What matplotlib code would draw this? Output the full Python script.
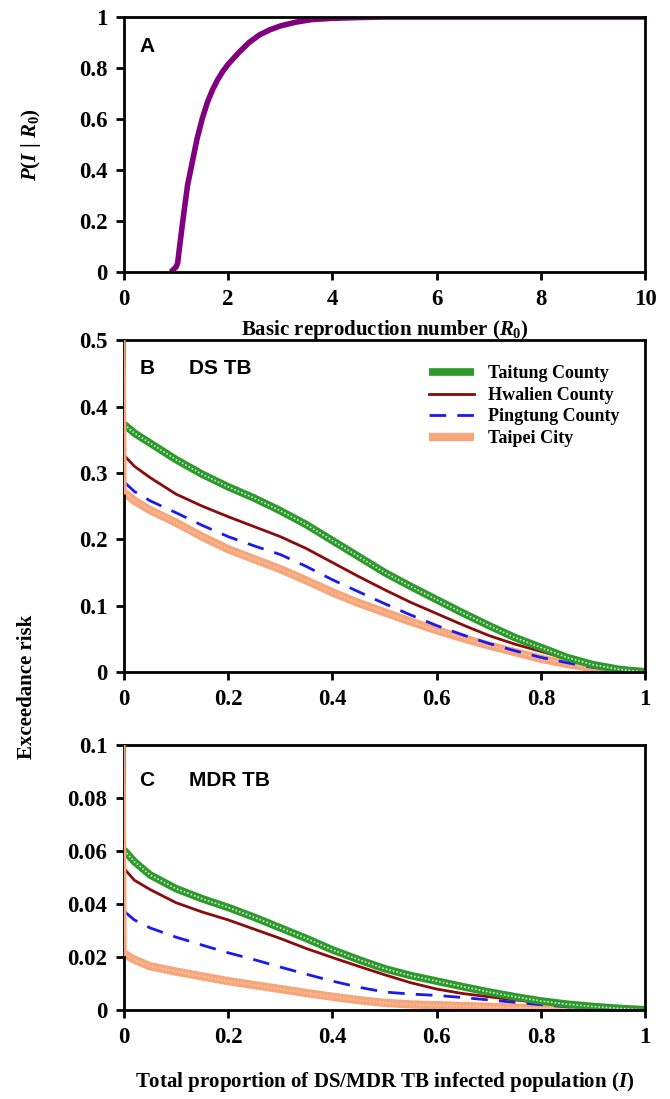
import numpy as np
import matplotlib
matplotlib.use('Agg')
import matplotlib.pyplot as plt

plt.rcParams['font.family'] = ['Liberation Serif', 'DejaVu Serif']
plt.rcParams['font.weight'] = 'bold'
plt.rcParams['mathtext.fontset'] = 'custom'
plt.rcParams['mathtext.rm'] = 'Liberation Serif:bold'
plt.rcParams['mathtext.it'] = 'Liberation Serif:bold:italic'
plt.rcParams['mathtext.bf'] = 'Liberation Serif:bold'

# panel A: P(I|R0)
r0 = [0.9, 1.0, 1.03, 1.08, 1.15, 1.22, 1.3, 1.4, 1.5, 1.6, 1.7, 1.8, 1.9, 2.0, 2.2, 2.4,
      2.6, 2.8, 3.0, 3.3, 3.6, 4.0, 4.5, 5.0, 10]
p_r0 = [0, 0.02, 0.035, 0.12, 0.233, 0.34, 0.42, 0.52, 0.60, 0.665, 0.715, 0.755, 0.788, 0.815,
        0.86, 0.9, 0.93, 0.95, 0.965, 0.98, 0.99, 0.995, 0.998, 1.0, 1.0]

# panels B/C: exceedance risk
i_grid = [0, 0.002, 0.02, 0.05, 0.1, 0.15, 0.2, 0.25, 0.3, 0.35, 0.4, 0.45, 0.5,
          0.55, 0.6, 0.65, 0.7, 0.75, 0.8, 0.85, 0.9, 0.95, 1.0]

ds_taitung = [0.372, 0.372, 0.36, 0.345, 0.32, 0.298, 0.279, 0.262, 0.243, 0.222, 0.198, 0.174,
              0.150, 0.129, 0.109, 0.089, 0.070, 0.052, 0.037, 0.022, 0.011, 0.004, 0.0]
ds_hwalien = [0.325, 0.325, 0.31, 0.293, 0.268, 0.25, 0.234, 0.219, 0.204, 0.186, 0.165, 0.144,
              0.124, 0.105, 0.088, 0.071, 0.055, 0.042, 0.031, 0.020, 0.010, 0.004, 0.0]
ds_pingtung = [0.285, 0.285, 0.272, 0.258, 0.240, 0.221, 0.204, 0.19, 0.177, 0.159, 0.139, 0.121,
               0.103, 0.086, 0.070, 0.056, 0.043, 0.032, 0.022, 0.014, 0.007, 0.003, 0.0]
ds_taipei = [0.5, 0.27, 0.258, 0.244, 0.225, 0.204, 0.185, 0.17, 0.155, 0.138, 0.12, 0.104,
             0.09, 0.076, 0.063, 0.051, 0.04, 0.03, 0.02, 0.012, 0.006, 0.002, 0.0]

mdr_taitung = [0.060, 0.060, 0.056, 0.051, 0.0458, 0.042, 0.0387, 0.035, 0.031, 0.027, 0.0227, 0.019,
               0.0156, 0.013, 0.0109, 0.0088, 0.0068, 0.005, 0.0034, 0.0022, 0.0013, 0.0006, 0.0]
mdr_hwalien = [0.053, 0.053, 0.049, 0.0455, 0.0405, 0.037, 0.034, 0.0305, 0.027, 0.0232, 0.0198, 0.0165,
               0.0133, 0.0103, 0.0079, 0.0062, 0.005, 0.0038, 0.0027, 0.0015, 0.0008, 0.0003, 0.0]
mdr_pingtung = [0.037, 0.037, 0.034, 0.031, 0.0275, 0.0245, 0.0216, 0.019, 0.0162, 0.0135, 0.0109, 0.0086,
                0.0068, 0.006, 0.0055, 0.0047, 0.0038, 0.0029, 0.002, 0.0012, 0.0005, 0.0002, 0.0]
mdr_taipei = [0.1, 0.021, 0.019, 0.0165, 0.0145, 0.0127, 0.0109, 0.0094, 0.0079, 0.0064, 0.005, 0.0037,
              0.0027, 0.0021, 0.0018, 0.0015, 0.0012, 0.0009, 0.0007, 0.0005, 0.0004, 0.0002, 0.0]

names = ['Taitung County', 'Hwalien County', 'Pingtung County', 'Taipei City']

fig = plt.figure(figsize=(6.7, 10.99), dpi=100)
axA = fig.add_axes([0.185, 0.7525, 0.778, 0.232])
axB = fig.add_axes([0.185, 0.3885, 0.778, 0.302])
axC = fig.add_axes([0.185, 0.081, 0.778, 0.241])


def style(ax):
    for s in ax.spines.values():
        s.set_linewidth(2)
    ax.tick_params(axis='both', direction='out', width=2, length=6, labelsize=16.5, pad=6)
    for lab in ax.get_xticklabels() + ax.get_yticklabels():
        lab.set_fontweight('bold')


fmt = lambda v, pos: '%g' % v

axA.plot(r0, p_r0, color='#800080', lw=4, solid_capstyle='butt')
axA.set_xlim(0, 10)
axA.set_ylim(0, 1)
axA.set_xticks(np.arange(0, 11, 2))
axA.set_yticks(np.arange(0, 1.01, 0.2))
axA.yaxis.set_major_formatter(plt.FuncFormatter(fmt))
axA.set_xlabel(r'Basic reproduction number ($R_0$)', fontsize=15, fontweight='bold', labelpad=6)
axA.set_ylabel(r'$P(I\ |\ R_0)$', fontsize=15, labelpad=26)
axA.text(0.03, 0.885, 'A', transform=axA.transAxes, fontsize=15, fontweight='bold',
         family='Liberation Sans', va='center')
style(axA)


def draw(ax, ys):
    t, h, p, c = ys
    ax.plot(i_grid[:2], c[:2], color='#F7A57A', lw=2.5, zorder=3)
    ax.plot(i_grid[1:], c[1:], color='#F7A57A', lw=6, label=names[3], solid_capstyle='butt')
    ax.plot(i_grid[1:], c[1:], color='#FBC8A6', lw=1.2, ls=(0, (1, 1)))
    ax.plot(i_grid, p, color='#1A1AF0', lw=2, ls=(0, (6, 4)), label=names[2])
    ax.plot(i_grid, h, color='#8B0A0A', lw=2, label=names[1])
    ax.plot(i_grid, t, color='#2E9A2E', lw=5.5, label=names[0], solid_capstyle='butt')
    ax.plot(i_grid, t, color='#CDEBCD', lw=1.2, ls=(0, (1, 1.2)))
    ax.set_xlim(0, 1)
    ax.set_xticks(np.arange(0, 1.01, 0.2))
    ax.xaxis.set_major_formatter(plt.FuncFormatter(fmt))
    ax.yaxis.set_major_formatter(plt.FuncFormatter(fmt))
    style(ax)


draw(axB, [ds_taitung, ds_hwalien, ds_pingtung, ds_taipei])
axB.set_ylim(0, 0.5)
axB.set_yticks(np.arange(0, 0.51, 0.1))
axB.text(0.03, 0.915, 'B', transform=axB.transAxes, fontsize=15, fontweight='bold',
         family='Liberation Sans', va='center')
axB.text(0.125, 0.915, 'DS TB', transform=axB.transAxes, fontsize=15, fontweight='bold',
         family='Liberation Sans', va='center')
hs, ls = axB.get_legend_handles_labels()
order = [3, 2, 1, 0]
leg = axB.legend([hs[i] for i in order], [ls[i] for i in order], loc='upper right',
                 frameon=False, fontsize=13, handlelength=2.5, borderaxespad=1.0,
                 labelspacing=0.25)
for txt in leg.get_texts():
    txt.set_fontweight('bold')

draw(axC, [mdr_taitung, mdr_hwalien, mdr_pingtung, mdr_taipei])
axC.set_ylim(0, 0.1)
axC.set_yticks(np.arange(0, 0.101, 0.02))
axC.text(0.03, 0.868, 'C', transform=axC.transAxes, fontsize=15, fontweight='bold',
         family='Liberation Sans', va='center')
axC.text(0.125, 0.868, 'MDR TB', transform=axC.transAxes, fontsize=15, fontweight='bold',
         family='Liberation Sans', va='center')
axC.set_xlabel(r'Total proportion of DS/MDR TB infected population ($I$)', fontsize=15,
               fontweight='bold', labelpad=16)

fig.text(0.040, 0.375, 'Exceedance risk', rotation=90, fontsize=15, fontweight='bold',
         ha='center', va='center')

fig.savefig('out.png', dpi=100)
